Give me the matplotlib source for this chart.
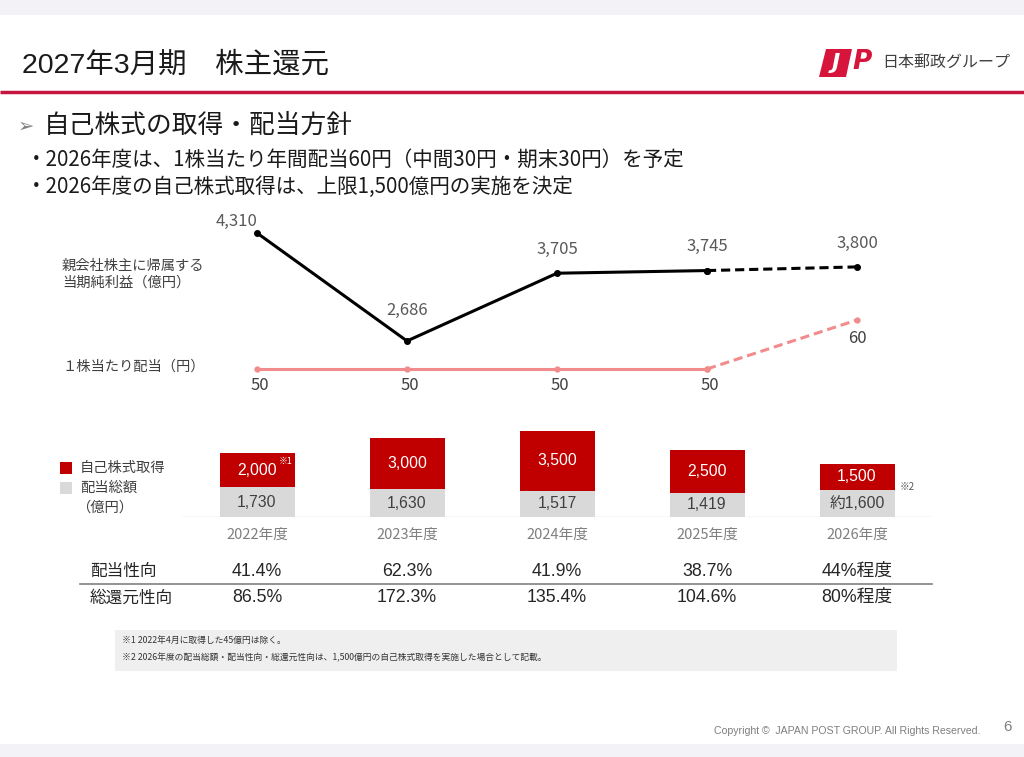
import matplotlib.pyplot as plt
from matplotlib.patches import Rectangle, Polygon

plt.rcParams['font.family'] = ['Noto Sans CJK JP', 'DejaVu Sans']

# chart data
years = ['2022年度', '2023年度', '2024年度', '2025年度', '2026年度']
net_income = [4310, 2686, 3705, 3745, 3800]
net_income_labels = ['4,310', '2,686', '3,705', '3,745', '3,800']
dps = [50, 50, 50, 50, 60]
buyback = [2000, 3000, 3500, 2500, 1500]
buyback_labels = ['2,000', '3,000', '3,500', '2,500', '1,500']
dividends = [1730, 1630, 1517, 1419, 1600]
dividend_labels = ['1,730', '1,630', '1,517', '1,419', '約1,600']
payout = ['41.4%', '62.3%', '41.9%', '38.7%', '44%程度']
total_return = ['86.5%', '172.3%', '135.4%', '104.6%', '80%程度']

W, H = 1024, 757
RED = '#C00000'
GRAY_BAR = '#D9D9D9'
CORAL = '#F28B8B'
TXT = '#262626'
NUM_FONT = ['Liberation Sans', 'Noto Sans CJK JP']

fig = plt.figure(figsize=(W / 100, H / 100), dpi=100)
fig.patch.set_facecolor('white')

# background axes in pixel coords for slide decoration
bg = fig.add_axes([0, 0, 1, 1])
bg.set_xlim(0, W)
bg.set_ylim(H, 0)
bg.axis('off')


def px_axes(x0, y0, x1, y1):
    ax = fig.add_axes([x0 / W, 1 - y1 / H, (x1 - x0) / W, (y1 - y0) / H])
    ax.patch.set_alpha(0)
    ax.axis('off')
    return ax


# header
bg.add_patch(Rectangle((0, 0), W, 15, color='#F3F3F7', lw=0))
bg.add_patch(Rectangle((0, 744), W, 13, color='#F3F3F7', lw=0))
bg.text(22, 65, '2027年3月期\u3000株主還元', fontsize=20.5, color='#1a1a1a', va='center',
        family=NUM_FONT)
bg.plot([0, W], [92, 92], color='#C4163F', lw=2.5, solid_capstyle='butt')

# logo
bg.add_patch(Polygon([(826, 49), (852, 49), (846, 77), (819, 77)], color='#D7143C', lw=0))
bg.text(836, 63, 'J', fontsize=16, color='white', fontweight='bold', style='italic',
        ha='center', va='center', family='DejaVu Sans')
bg.text(862, 62, 'P', fontsize=19, color='#D7143C', fontweight='bold', style='italic',
        ha='center', va='center', family='DejaVu Sans')
bg.text(882, 62, '日本郵政グループ', fontsize=11.5, color='#404040', va='center')

# subtitle and bullets
bg.text(18, 126, '➢', fontsize=14, color='#808080', va='center', family=['DejaVu Sans'])
bg.text(44, 126, '自己株式の取得・配当方針', fontsize=18.5, color='#1a1a1a', va='center')
bg.text(26, 160, '・2026年度は、1株当たり年間配当60円（中間30円・期末30円）を予定',
        fontsize=14.8, color='#1a1a1a', va='center')
bg.text(26, 187, '・2026年度の自己株式取得は、上限1,500億円の実施を決定',
        fontsize=14.8, color='#1a1a1a', va='center')

# left-side series labels
bg.text(62, 266, '親会社株主に帰属する', fontsize=10.3, color='#404040', va='center')
bg.text(62, 283, '当期純利益（億円）', fontsize=10.3, color='#404040', va='center')
bg.text(62, 367, '１株当たり配当（円）', fontsize=10.3, color='#404040', va='center')

# bar legend
bg.add_patch(Rectangle((60, 462), 12, 12, color=RED, lw=0))
bg.text(80, 468, '自己株式取得', fontsize=10.3, color='#404040', va='center')
bg.add_patch(Rectangle((60, 482), 12, 12, color=GRAY_BAR, lw=0))
bg.text(80, 488, '配当総額', fontsize=10.3, color='#404040', va='center')
bg.text(76, 508, '（億円）', fontsize=10.3, color='#404040', va='center')

x = list(range(len(years)))

# net income line
ax1 = px_axes(182, 200.4, 932, 360)
ax1.set_xlim(-0.5, 4.5)
ax1.set_ylim(2400, 4800)
ax1.plot(x[:4], net_income[:4], color='black', lw=2.2, marker='o', ms=4)
ax1.plot(x[3:], net_income[3:], color='black', lw=2.2, ls=(0, (3, 1.6)), marker='o', ms=4)
ni_offsets = [(-15, 8), (0, 22), (0, 17), (0, 17), (0, 17)]
for xi, v, lab, off in zip(x, net_income, net_income_labels, ni_offsets):
    ax1.annotate(lab, (xi, v), xytext=off, textcoords='offset points', ha='center',
                 va='center', fontsize=12, color='#595959')

# dividend per share line
ax2 = px_axes(182, 300.4, 932, 398.4)
ax2.set_xlim(-0.5, 4.5)
ax2.set_ylim(44, 64)
ax2.plot(x[:4], dps[:4], color=CORAL, lw=2.2, marker='o', ms=3.5)
ax2.plot(x[3:], dps[3:], color=CORAL, lw=2.2, ls=(0, (3, 1.6)), marker='o', ms=3.5)
for xi, v in zip(x, dps):
    ax2.annotate(str(v), (xi, v), xytext=(2 if v == 50 else 0, -12 if v == 50 else -13),
                 textcoords='offset points', ha='center', va='center', fontsize=12,
                 color='#404040')

# stacked bars
ax3 = px_axes(182, 414, 932, 517)
ax3.set_xlim(-0.5, 4.5)
ax3.set_ylim(0, 6000)
ax3.bar(x, dividends, width=0.5, color=GRAY_BAR, lw=0)
ax3.bar(x, buyback, width=0.5, bottom=dividends, color=RED, lw=0)
ax3.axhline(0, color='#D9D9D9', lw=1)
for xi, d, b, dl, bl in zip(x, dividends, buyback, dividend_labels, buyback_labels):
    ax3.text(xi, d / 2, dl, ha='center', va='center', fontsize=11.3, color='#404040',
             family=NUM_FONT)
    ax3.text(xi, d + b / 2, bl, ha='center', va='center', fontsize=11.3, color='white',
             family=NUM_FONT)
ax3.annotate('※1', (0.25, dividends[0] + buyback[0]), xytext=(-1, -6),
             textcoords='offset points', ha='right', va='center', fontsize=6.5, color='white')
ax3.annotate('※2', (4.25, dividends[4]), xytext=(4, 2), textcoords='offset points',
             ha='left', va='center', fontsize=7, color='#595959')

# year labels and ratio table under the bars
for xi, yr, p, t in zip(x, years, payout, total_return):
    ax3.annotate(yr, (xi, 0), xycoords=('data', 'axes fraction'), xytext=(0, -13),
                 textcoords='offset points', ha='center', va='center', fontsize=10.5,
                 color='#7F7F7F', annotation_clip=False)
    ax3.annotate(p, (xi, 0), xycoords=('data', 'axes fraction'), xytext=(0, -39),
                 textcoords='offset points', ha='center', va='center', fontsize=12.8,
                 color=TXT, annotation_clip=False, family=NUM_FONT)
    ax3.annotate(t, (xi, 0), xycoords=('data', 'axes fraction'), xytext=(0, -58),
                 textcoords='offset points', ha='center', va='center', fontsize=12.8,
                 color=TXT, annotation_clip=False, family=NUM_FONT)

bg.text(90, 571, '配当性向', fontsize=12, color=TXT, va='center')
bg.text(90, 598, '総還元性向', fontsize=12, color=TXT, va='center')
bg.plot([80, 932], [584, 584], color='#808080', lw=1.2)

# footnotes
bg.add_patch(Rectangle((115, 630), 782, 41, color='#EFEFEF', lw=0))
bg.text(122, 640, '※1 2022年4月に取得した45億円は除く。', fontsize=6.3, color='#333333',
        va='center')
bg.text(122, 658, '※2 2026年度の配当総額・配当性向・総還元性向は、1,500億円の自己株式取得を実施した場合として記載。',
        fontsize=6.3, color='#333333', va='center')

# footer
bg.text(980, 731, 'Copyright ©  JAPAN POST GROUP. All Rights Reserved.', fontsize=7.6,
        color='#7F7F7F', ha='right', va='center', family='Liberation Sans')
bg.text(1003, 727, '6', fontsize=11, color='#7F7F7F', va='center', family='Liberation Sans')

fig.savefig('out.png', dpi=100)
